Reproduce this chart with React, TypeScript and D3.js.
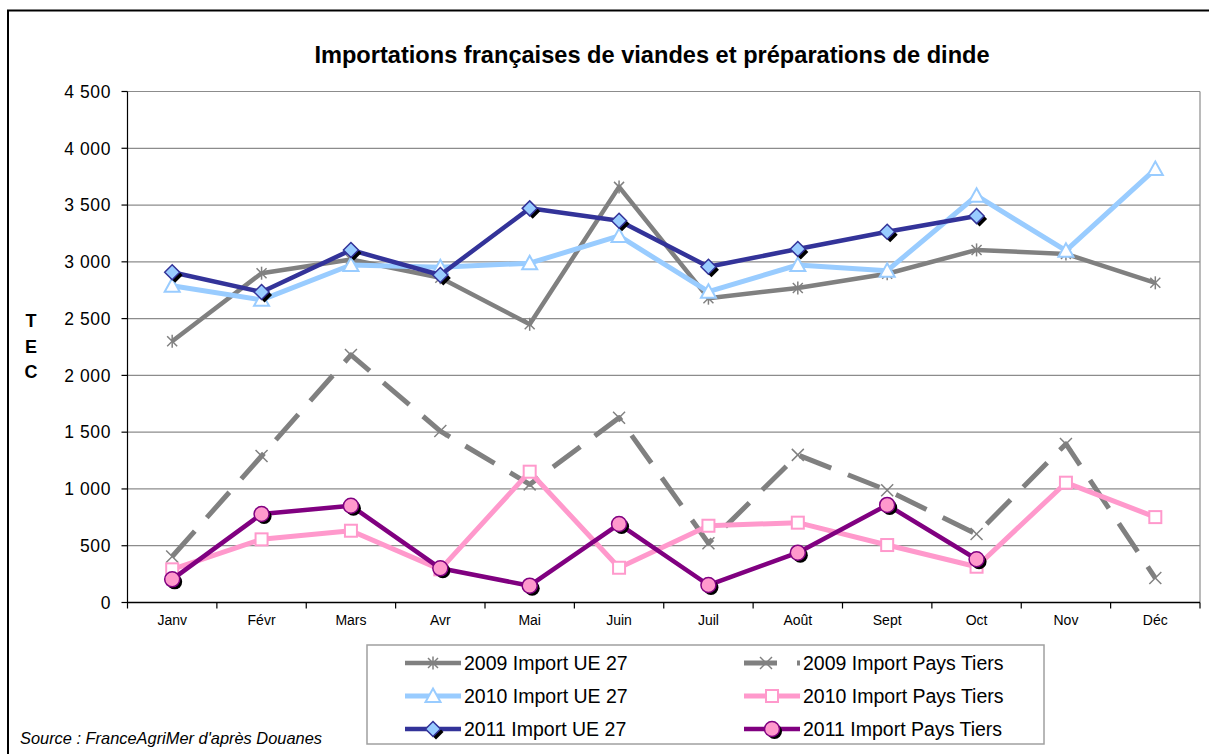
import * as d3 from "d3";

const months = ["Janv", "Févr", "Mars", "Avr", "Mai", "Juin", "Juil", "Août", "Sept", "Oct", "Nov", "Déc"];
const yTicks = [0, 500, 1000, 1500, 2000, 2500, 3000, 3500, 4000, 4500];
const yTickLabels = ["0", "500", "1 000", "1 500", "2 000", "2 500", "3 000", "3 500", "4 000", "4 500"];

// TEC par mois
const ue2009 = [2300, 2900, 3020, 2860, 2450, 3660, 2680, 2770, 2895, 3105, 3070, 2815];
const pt2009 = [405, 1290, 2180, 1510, 1040, 1627, 522, 1300, 988, 603, 1396, 215];
const ue2010 = [2790, 2665, 2972, 2952, 2988, 3228, 2737, 2972, 2922, 3582, 3098, 3817];
const pt2010 = [292, 556, 632, 292, 1152, 306, 676, 703, 506, 315, 1055, 752];
const ue2011 = [2908, 2734, 3104, 2884, 3471, 3362, 2957, 3113, 3265, 3403];
const pt2011 = [204, 779, 852, 301, 148, 691, 154, 439, 859, 381];

const FONT = "'Liberation Sans', Arial, sans-serif";

const series = [
  { name: "2009 Import UE 27", values: ue2009, color: "#808080", width: 4.5, dash: null, marker: "star" },
  { name: "2009 Import Pays Tiers", values: pt2009, color: "#808080", width: 5, dash: "34 18", marker: "x" },
  { name: "2010 Import UE 27", values: ue2010, color: "#99CCFF", width: 5, dash: null, marker: "triangle" },
  { name: "2010 Import Pays Tiers", values: pt2010, color: "#FF99CC", width: 5, dash: null, marker: "square" },
  { name: "2011 Import UE 27", values: ue2011, color: "#333399", width: 4.5, dash: null, marker: "diamond" },
  { name: "2011 Import Pays Tiers", values: pt2011, color: "#800080", width: 4.5, dash: null, marker: "circle" },
];

const Marker = ({ kind, cx, cy }: { kind: string; cx: number; cy: number }) => {
  if (kind === "star") {
    return (
      <g stroke="#808080" strokeWidth={1.5}>
        <line x1={cx - 5} y1={cy - 5} x2={cx + 5} y2={cy + 5} />
        <line x1={cx - 5} y1={cy + 5} x2={cx + 5} y2={cy - 5} />
        <line x1={cx} y1={cy - 6.5} x2={cx} y2={cy + 6.5} />
      </g>
    );
  }
  if (kind === "x") {
    return (
      <g stroke="#808080" strokeWidth={1.5}>
        <line x1={cx - 6} y1={cy - 6} x2={cx + 6} y2={cy + 6} />
        <line x1={cx - 6} y1={cy + 6} x2={cx + 6} y2={cy - 6} />
      </g>
    );
  }
  if (kind === "triangle") {
    return (
      <polygon
        points={`${cx},${cy - 7.5} ${cx + 7.5},${cy + 6} ${cx - 7.5},${cy + 6}`}
        fill="#fff"
        stroke="#99CCFF"
        strokeWidth={2}
      />
    );
  }
  if (kind === "square") {
    return <rect x={cx - 6} y={cy - 6} width={12} height={12} fill="#fff" stroke="#FF99CC" strokeWidth={2} />;
  }
  if (kind === "diamond") {
    const d = (ox: number, oy: number) =>
      `${cx + ox},${cy + oy - 7.5} ${cx + ox + 7.5},${cy + oy} ${cx + ox},${cy + oy + 7.5} ${cx + ox - 7.5},${cy + oy}`;
    return (
      <g>
        <polygon points={d(3, 3)} fill="#000" />
        <polygon points={d(0, 0)} fill="#99CCFF" stroke="#333399" strokeWidth={1.5} />
      </g>
    );
  }
  return (
    <g>
      <circle cx={cx + 2.5} cy={cy + 2.5} r={7.5} fill="#000" />
      <circle cx={cx} cy={cy} r={7.5} fill="#FF99CC" stroke="#800080" strokeWidth={1.5} />
    </g>
  );
};

export default function App() {
  const W = 1209;
  const H = 754;
  const left = 127.5;
  const right = 1200;
  const top = 91.5;
  const bottom = 602.5;

  const x = d3.scaleBand<string>().domain(months).range([left, right]);
  const y = d3.scaleLinear().domain([0, 4500]).range([bottom, top]);
  const cx = (i: number) => (x(months[i]) as number) + x.bandwidth() / 2;

  const line = d3
    .line<number>()
    .x((_, i) => cx(i))
    .y((d) => y(d));

  const legendCols = [405, 744];
  const legendRows = [663, 696, 729];

  return (
    <svg width={W} height={H} style={{ position: "absolute", left: 0, top: 0, display: "block" }} fontFamily={FONT}>
      <rect x={0} y={0} width={W} height={H} fill="#fff" />
      <rect x={8} y={10.5} width={W + 20} height={H + 20} fill="none" stroke="#000" strokeWidth={2} />

      <text x={652} y={63} textAnchor="middle" fontSize={23.6} fontWeight="bold">
        Importations françaises de viandes et préparations de dinde
      </text>

      {/* grid */}
      {yTicks.map((t) => (
        <line key={t} x1={left} x2={right} y1={y(t)} y2={y(t)} stroke="#8c8c8c" strokeWidth={1.2} />
      ))}
      <line x1={right} x2={right} y1={top} y2={bottom} stroke="#8c8c8c" strokeWidth={1.2} />

      {/* y axis */}
      <line x1={left} x2={left} y1={top} y2={bottom + 0.5} stroke="#000" strokeWidth={1.2} />
      {yTicks.map((t, i) => (
        <g key={"yt" + t}>
          <line x1={left - 6} x2={left} y1={y(t)} y2={y(t)} stroke="#000" strokeWidth={1.2} />
          <text x={111} y={y(t)} dy="0.36em" textAnchor="end" fontSize={17.5} letterSpacing={0.6}>
            {yTickLabels[i].replace(" ", "\u00a0")}
          </text>
        </g>
      ))}
      {["T", "E", "C"].map((c, i) => (
        <text key={c} x={31} y={321 + i * 25.5} dy="0.36em" textAnchor="middle" fontSize={18} fontWeight="bold">
          {c}
        </text>
      ))}

      {/* x axis */}
      <line x1={left} x2={right} y1={bottom} y2={bottom} stroke="#000" strokeWidth={1.5} />
      {months.map((m) => (
        <line
          key={"xt" + m}
          x1={x(m) as number}
          x2={x(m) as number}
          y1={bottom}
          y2={bottom + 6}
          stroke="#000"
          strokeWidth={1.2}
        />
      ))}
      <line x1={right} x2={right} y1={bottom} y2={bottom + 6} stroke="#000" strokeWidth={1.2} />
      {months.map((m, i) => (
        <text key={"xl" + m} x={cx(i)} y={625} textAnchor="middle" fontSize={14}>
          {m}
        </text>
      ))}

      {/* series */}
      {series.map((s) => (
        <g key={s.name}>
          <path
            d={line(s.values) as string}
            fill="none"
            stroke={s.color}
            strokeWidth={s.width}
            strokeDasharray={s.dash ?? undefined}
            strokeLinejoin="round"
          />
          {s.values.map((v, i) => (
            <Marker key={i} kind={s.marker} cx={cx(i)} cy={y(v)} />
          ))}
        </g>
      ))}

      {/* legend */}
      <rect x={367} y={645} width={677} height={99} fill="#fff" stroke="#a0a0a0" strokeWidth={1.5} />
      {series.map((s, k) => {
        const lx = legendCols[k % 2];
        const ly = legendRows[Math.floor(k / 2)];
        return (
          <g key={"lg" + s.name}>
            <line
              x1={lx}
              x2={lx + 56}
              y1={ly}
              y2={ly}
              stroke={s.color}
              strokeWidth={s.width}
              strokeDasharray={s.dash ? "33 20" : undefined}
            />
            <Marker kind={s.marker} cx={lx + (s.dash ? 22 : 28)} cy={ly} />
            <text x={lx + 59} y={ly} dy="0.36em" fontSize={19.5}>
              {s.name}
            </text>
          </g>
        );
      })}

      <text x={20} y={744} fontSize={16.4} fontStyle="italic">
        Source : FranceAgriMer d'après Douanes
      </text>
    </svg>
  );
}
